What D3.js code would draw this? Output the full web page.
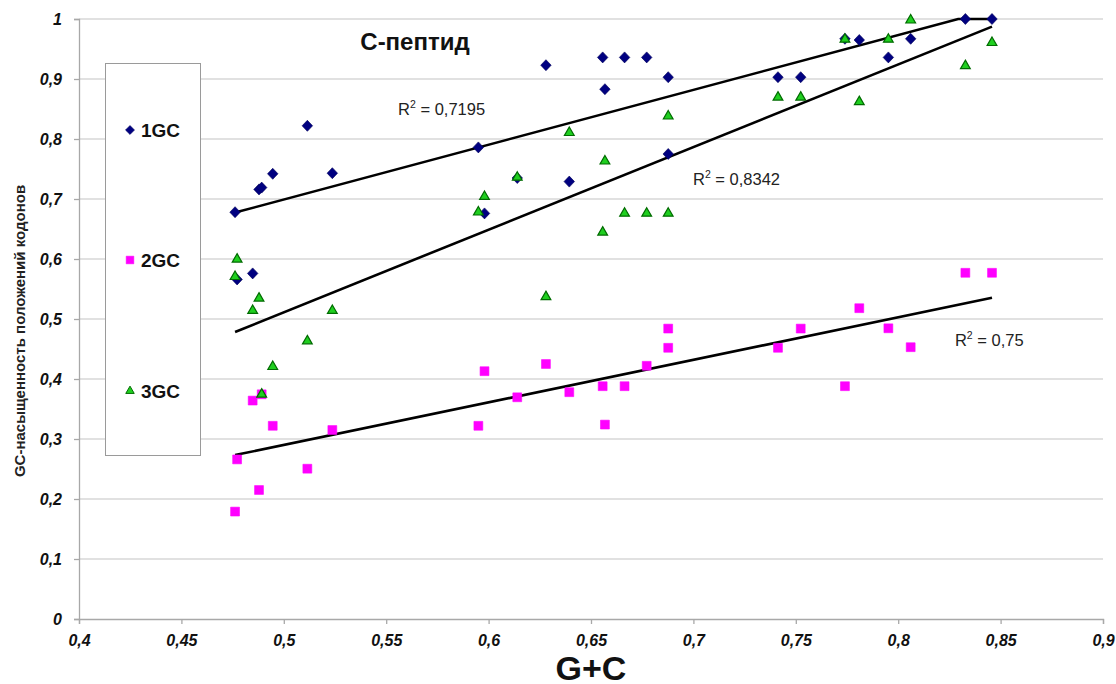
<!DOCTYPE html>
<html>
<head>
<meta charset="utf-8">
<script src="https://cdn.jsdelivr.net/npm/d3@7"></script>
<style>
  html, body { margin: 0; padding: 0; background: #fff; }
  svg { display: block; font-family: "Liberation Sans", Arial, sans-serif; }
</style>
</head>
<body>
<svg id="chart" width="1116" height="684"></svg>
<script>
// G+C content of each gene (shared x for all three series)
const gc = [0.4762, 0.4772, 0.4848, 0.4879, 0.4892, 0.4946, 0.5115, 0.5237,
            0.595, 0.598, 0.614, 0.628, 0.6394, 0.6557, 0.6568, 0.6664, 0.6772,
            0.6877, 0.6877, 0.7413, 0.7524, 0.774, 0.781, 0.7952, 0.8061, 0.8328, 0.8458];
// GC saturation of codon positions 1, 2, 3
const gc1 = [0.678, 0.566, 0.576, 0.716, 0.719, 0.742, 0.822, 0.743,
             0.786, 0.676, 0.735, 0.923, 0.729, 0.936, 0.883, 0.936, 0.936,
             0.903, 0.775, 0.903, 0.903, 0.967, 0.965, 0.936, 0.967, 1.0, 1.0];
const gc2 = [0.179, 0.266, 0.364, 0.215, 0.3745, 0.322, 0.2505, 0.315,
             0.322, 0.413, 0.3695, 0.425, 0.378, 0.388, 0.324, 0.388, 0.422,
             0.484, 0.452, 0.452, 0.484, 0.388, 0.518, 0.4845, 0.453, 0.577, 0.577];
const gc3 = [0.5705, 0.5995, 0.514, 0.5345, 0.3745, 0.4205, 0.4633, 0.514,
             0.678, 0.704, 0.736, 0.537, 0.8105, 0.6445, 0.763, 0.676, 0.676,
             0.838, 0.676, 0.8695, 0.8695, 0.966, 0.862, 0.966, 0.998, 0.922, 0.9605];
const seriesNames = ["1GC", "2GC", "3GC"];
const r2Labels = ["0,7195", "0,75", "0,8342"];
// anchor of each R² label in data units
const r2Pos = [[0.5558, 0.84], [0.8277, 0.455], [0.6998, 0.7233]];
const xTicks = [0.4, 0.45, 0.5, 0.55, 0.6, 0.65, 0.7, 0.75, 0.8, 0.85, 0.9];
const yTicks = [0, 0.1, 0.2, 0.3, 0.4, 0.5, 0.6, 0.7, 0.8, 0.9, 1];

const svg = d3.select("#chart");
const m = { left: 79, top: 19, width: 1024, height: 600 };
const x = d3.scaleLinear().domain([0.4, 0.9]).range([m.left, m.left + m.width]);
const y = d3.scaleLinear().domain([0, 1]).range([m.top + m.height, m.top]);
const fmt = d => String(d).replace(".", ",");

// horizontal gridlines
svg.append("g").selectAll("line").data(yTicks.filter(d => d > 0)).join("line")
  .attr("x1", m.left).attr("x2", m.left + m.width)
  .attr("y1", d => y(d)).attr("y2", d => y(d))
  .attr("stroke", "#c4c4c4").attr("stroke-width", 1.2);

// axes
const xAxis = svg.append("g").attr("transform", `translate(0,${m.top + m.height})`)
  .call(d3.axisBottom(x).tickValues(xTicks).tickFormat(fmt).tickSize(5).tickPadding(11));
const yAxis = svg.append("g").attr("transform", `translate(${m.left},0)`)
  .call(d3.axisLeft(y).tickValues(yTicks).tickFormat(fmt).tickSize(5).tickPadding(12));
[xAxis, yAxis].forEach(a => {
  a.selectAll("path, line").attr("stroke", "#a8a8a8").attr("stroke-width", 1.3);
  a.selectAll("text").attr("font-size", 16).attr("font-weight", "bold")
    .attr("font-style", "italic").attr("fill", "#111")
    .attr("font-family", '"Liberation Sans", Arial, sans-serif');
});

// least-squares trendline over the data range, clipped at the top of the plot
function trend(ys) {
  const n = gc.length, mx = d3.mean(gc), my = d3.mean(ys);
  let sxy = 0, sxx = 0;
  for (let i = 0; i < n; i++) { sxy += (gc[i] - mx) * (ys[i] - my); sxx += (gc[i] - mx) ** 2; }
  const b = sxy / sxx, a = my - b * mx;
  const x0 = d3.min(gc), x1 = d3.max(gc);
  const pts = [[x0, a + b * x0]];
  const xc = (1 - a) / b;
  if (b > 0 && xc > x0 && xc < x1) pts.push([xc, 1]);
  pts.push([x1, Math.min(1, a + b * x1)]);
  return pts;
}
const line = d3.line().x(d => x(d[0])).y(d => y(d[1]));
[gc1, gc2, gc3].forEach(s => {
  svg.append("path").attr("d", line(trend(s)))
    .attr("fill", "none").attr("stroke", "#000").attr("stroke-width", 2.6);
});

// markers
const sym = {
  "1GC": { type: d3.symbolDiamond2, size: 70, fill: "#000080", stroke: "#00005a" },
  "2GC": { type: d3.symbolSquare2, size: 100, fill: "#ff00ff", stroke: "#ff00ff" },
  "3GC": { type: d3.symbolTriangle2, size: 68, fill: "#1fcf1f", stroke: "#006b00" }
};
const sets = { "1GC": gc1, "2GC": gc2, "3GC": gc3 };
["2GC", "1GC", "3GC"].forEach(name => {
  const s = sym[name];
  const diamond = name === "1GC";
  svg.append("g").selectAll("path").data(gc.map((g, i) => [g, sets[name][i]])).join("path")
    .attr("d", d3.symbol().type(s.type).size(s.size))
    .attr("transform", d => `translate(${x(d[0])},${y(d[1])})` + (diamond ? " scale(1,1.05)" : ""))
    .attr("fill", s.fill).attr("stroke", s.stroke).attr("stroke-width", name === "3GC" ? 1.2 : 0.6);
});

// R² annotations
[0, 1, 2].forEach(i => {
  const t = svg.append("text").attr("x", x(r2Pos[i][0])).attr("y", y(r2Pos[i][1]))
    .attr("font-size", 16.5).attr("fill", "#222");
  t.append("tspan").text("R");
  t.append("tspan").text("2").attr("font-size", 10.5).attr("dy", -7);
  t.append("tspan").text(" = " + r2Labels[i]).attr("dy", 7);
});

// title
svg.append("text").attr("x", 415).attr("y", 50).attr("text-anchor", "middle")
  .attr("font-size", 24).attr("font-weight", "bold").attr("fill", "#111").text("С-пептид");

// axis titles
svg.append("text").attr("x", 591).attr("y", 680).attr("text-anchor", "middle")
  .attr("font-size", 34).attr("font-weight", "bold").attr("fill", "#111").text("G+C");
svg.append("text").attr("transform", "translate(25,331) rotate(-90)").attr("text-anchor", "middle")
  .attr("font-size", 15).attr("font-weight", "bold").attr("fill", "#222")
  .text("GC-насыщенность положений кодонов");

// legend
const lg = svg.append("g");
lg.append("rect").attr("x", 105.5).attr("y", 63.5).attr("width", 95).attr("height", 392)
  .attr("fill", "#fff").attr("stroke", "#9a9a9a").attr("stroke-width", 1);
const legY = [130, 260, 391];
seriesNames.forEach((name, i) => {
  const s = sym[name];
  lg.append("path").attr("d", d3.symbol().type(s.type).size(s.size * 0.75))
    .attr("transform", `translate(130,${legY[i]})`)
    .attr("fill", s.fill).attr("stroke", s.stroke).attr("stroke-width", name === "3GC" ? 1 : 0.5);
  lg.append("text").attr("x", 141).attr("y", legY[i] + 7).attr("font-size", 19)
    .attr("font-weight", "bold").attr("fill", "#111").text(name);
});
</script>
</body>
</html>
